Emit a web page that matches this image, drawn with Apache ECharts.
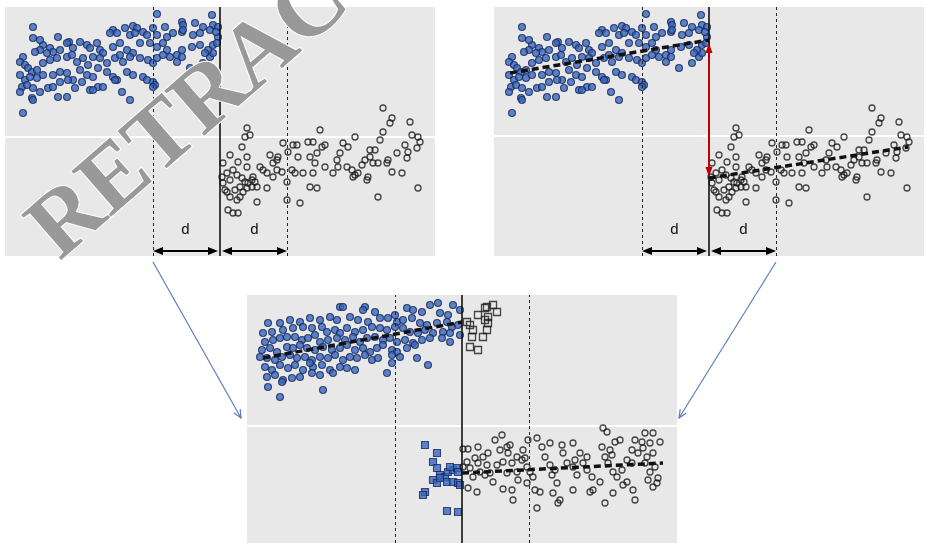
<!DOCTYPE html>
<html>
<head>
<meta charset="utf-8">
<script src="https://cdn.jsdelivr.net/npm/echarts@6/dist/echarts.min.js"></script>
<style>
  html, body { margin: 0; padding: 0; background: #ffffff; }
  #chart { width: 926px; height: 543px; }
</style>
</head>
<body>
<div id="chart"></div>
<script>
// Regression-discontinuity illustration: running variable centred on the cutoff (0),
// bandwidth d on either side, outcome on the vertical scale.

const cutoff = 0;
const bandwidth = 67;
const dividerLevels = [119, 120, 117];

// Panel A / B: treated units (left of cutoff)
const treatedLeft = [
  [-63,242],[-8,241],[-38,234],[-37,231],[-25,233],[-17,229],[-7,231],[-187,229],[-107,226],[-95,228],
  [-87,230],[-83,228],[-77,224],[-67,228],[-55,229],[-110,223],[-103,223],[-90,221],[-85,223],[-73,221],
  [-63,221],[-53,219],[-47,223],[-38,224],[-37,226],[-27,221],[-20,223],[-10,226],[-2,219],[-187,218],
  [-162,219],[-151,214],[-140,214],[-153,213],[-177,211],[-170,208],[-167,204],[-180,206],[-185,204],[-173,203],
  [-160,206],[-147,208],[-133,211],[-123,213],[-130,208],[-120,206],[-117,203],[-107,209],[-100,213],[-93,206],
  [-87,203],[-80,213],[-70,213],[-63,209],[-57,213],[-53,206],[-50,199],[-43,201],[-38,206],[-28,209],
  [-20,211],[-7,211],[-3,213],[-197,199],[-200,194],[-195,191],[-192,188],[-188,184],[-183,186],[-177,193],
  [-170,196],[-163,198],[-153,199],[-148,201],[-143,194],[-137,198],[-132,191],[-127,199],[-120,198],[-113,193],
  [-105,198],[-100,201],[-97,194],[-90,199],[-80,198],[-72,196],[-67,193],[-63,198],[-57,201],[-43,194],
  [-38,199],[-30,188],[-17,193],[-10,199],[-7,203],[-200,181],[-195,176],[-190,179],[-183,178],[-177,181],
  [-167,181],[-160,184],[-153,183],[-147,176],[-140,186],[-133,181],[-127,179],[-122,188],[-113,184],[-107,179],
  [-103,176],[-93,184],[-87,181],[-77,179],[-73,176],[-67,174],[-65,171],[-198,169],[-193,171],[-187,168],
  [-172,168],[-167,169],[-160,174],[-152,176],[-145,168],[-138,174],[-130,166],[-122,169],[-117,169],[-105,176],
  [-200,164],[-188,158],[-187,156],[-180,164],[-162,159],[-153,159],[-127,166],[-98,164],[-90,156],[-197,143],
  [-67,169],[-2,229],[-4,224],[-180,216],[-12,206],[-15,203]
];

// Panel A / B: control units (right of cutoff)
const controlRight = [
  [163,148],[172,138],[170,133],[190,134],[192,121],[198,119],[200,114],[185,111],[188,104],[187,98],
  [197,108],[177,103],[168,96],[160,116],[163,124],[155,106],[150,106],[150,99],[145,96],[135,119],
  [128,109],[123,113],[120,103],[117,96],[118,89],[113,83],[127,89],[132,86],[135,81],[138,83],
  [133,79],[142,91],[147,76],[148,79],[153,93],[158,93],[167,93],[172,84],[182,83],[198,68],
  [158,59],[100,126],[105,111],[93,114],[88,114],[102,109],[97,103],[90,99],[95,93],[105,89],
  [93,83],[90,69],[97,68],[78,99],[73,111],[77,111],[63,113],[68,104],[72,86],[75,83],
  [83,83],[67,74],[67,56],[80,53],[58,99],[57,96],[53,93],[50,101],[57,86],[62,84],
  [53,79],[47,83],[43,86],[40,89],[47,68],[37,54],[27,128],[25,119],[30,121],[22,109],
  [27,99],[10,101],[3,93],[18,94],[27,89],[13,86],[7,83],[10,76],[3,73],[17,81],
  [22,78],[25,74],[28,73],[32,76],[33,79],[35,74],[20,69],[15,66],[7,64],[10,59],
  [17,56],[20,59],[23,64],[27,68],[32,69],[37,69],[8,46],[13,43],[18,43],[5,66],
  [2,79]
];

// Panel B: local linear fits on each side
const fitLeftB = [[-199,183],[0,216]];
const fitRightB = [[0,78],[199,109]];
// Panel B: estimated jump at the cutoff
const jumpB = [[0,208],[0,84]];

// Panel C: treated units left of cutoff
const treatedLeftC = [
  [-122,236],[-119,236],[-97,236],[-99,233],[-87,231],[-67,228],[-55,235],[-49,233],[-40,231],[-32,238],
  [-24,240],[-9,238],[-2,233],[-22,230],[-14,228],[-194,220],[-182,220],[-172,223],[-162,221],[-152,225],
  [-142,223],[-132,226],[-125,223],[-112,226],[-104,223],[-94,221],[-82,225],[-74,225],[-65,221],[-59,223],
  [-50,225],[-42,220],[-35,218],[-25,220],[-15,221],[-10,216],[-4,218],[-199,210],[-190,211],[-179,213],
  [-169,215],[-159,216],[-150,215],[-140,216],[-135,211],[-127,213],[-122,210],[-115,215],[-107,211],[-99,213],
  [-90,216],[-82,215],[-75,213],[-67,216],[-59,215],[-52,211],[-44,210],[-37,213],[-29,210],[-19,211],
  [-12,210],[-2,208],[-197,201],[-189,203],[-182,205],[-175,206],[-167,206],[-160,203],[-154,205],[-147,208],
  [-142,201],[-134,203],[-125,205],[-117,203],[-109,206],[-102,201],[-95,205],[-87,206],[-79,203],[-72,205],
  [-65,201],[-57,203],[-49,200],[-40,203],[-32,205],[-20,205],[-12,201],[-200,193],[-192,195],[-185,191],
  [-175,196],[-169,195],[-162,198],[-155,195],[-147,193],[-139,196],[-130,193],[-122,195],[-115,198],[-107,193],
  [-99,195],[-92,191],[-85,195],[-79,198],[-70,193],[-65,191],[-55,195],[-47,198],[-195,185],[-187,183],
  [-180,186],[-172,188],[-165,185],[-157,186],[-150,183],[-142,186],[-134,185],[-127,188],[-119,183],[-112,186],
  [-105,185],[-97,188],[-90,183],[-84,185],[-70,188],[-62,186],[-45,185],[-34,178],[-197,176],[-190,173],
  [-182,178],[-174,175],[-167,178],[-159,173],[-149,176],[-140,178],[-132,173],[-122,176],[-115,175],[-107,173],
  [-70,180],[-75,170],[-195,166],[-187,168],[-179,163],[-170,165],[-162,166],[-150,170],[-142,168],[-129,170],
  [-194,156],[-182,146],[-139,153],[-180,161],[-152,180],[-202,186]
];

// Panel C: units just right of cutoff that sit with the upper group
const switchersUp = [
  [25,236],[31,238],[35,231],[16,228],[23,235],[8,218],[11,213],[10,206],[23,223],[26,220],
  [25,213],[21,206],[8,196],[16,193],[26,226],[5,221]
];

// Panel C: units just left of cutoff that sit with the lower group
const switchersDown = [
  [-37,98],[-25,90],[-29,81],[-25,75],[-22,68],[-17,66],[-14,71],[-9,73],[-5,75],[-4,71],
  [-29,63],[-25,60],[-22,65],[-15,61],[-9,61],[-4,60],[-2,58],[-37,51],[-39,48],[-15,32],
  [-4,31],[-12,76]
];

// Panel C: control units right of cutoff
const controlRightC = [
  [1,94],[6,94],[16,96],[13,85],[5,81],[1,76],[8,75],[16,80],[21,86],[26,90],
  [25,78],[18,71],[11,66],[6,55],[15,51],[23,68],[28,70],[31,61],[33,103],[40,108],
  [38,93],[45,96],[48,98],[46,90],[41,81],[35,78],[45,70],[50,80],[55,86],[61,93],
  [60,83],[55,71],[56,63],[50,53],[41,54],[51,43],[63,85],[65,76],[68,71],[71,66],
  [65,60],[73,53],[78,51],[75,35],[66,103],[75,105],[80,96],[83,86],[88,78],[93,73],
  [90,68],[95,60],[91,50],[98,43],[96,40],[88,100],[100,98],[101,90],[105,80],[111,100],
  [113,83],[111,76],[115,68],[118,90],[121,80],[125,73],[130,66],[131,53],[128,51],[143,40],
  [140,96],[143,86],[141,115],[145,111],[148,93],[153,101],[158,103],[146,80],[151,71],[155,66],
  [160,73],[165,61],[171,53],[173,43],[170,80],[165,83],[170,93],[173,103],[176,90],[180,101],
  [183,110],[191,110],[198,101],[188,100],[185,86],[191,90],[183,80],[193,76],[188,71],[186,63],
  [196,65],[191,56],[195,60],[138,61],[111,53],[151,50],[161,58],[181,95],[150,88],[125,86]
];

// Panel C: local linear fits
const fitLeftC = [[-199,185],[0,221]];
const fitRightC = [[0,70],[201,80]];

// Ends of the connecting arrows: [grid index, x, y] in each panel's own scale
const linkLeft = [[0, -bandwidth, -6], [2, -221, 125]];
const linkRight = [[1, bandwidth, -6], [2, 217, 125]];

const panelBg = '#e8e8e8';
const blueStyle = { color: '#3a67bd', borderColor: '#17285a', borderWidth: 1.1 };
const openStyle = { color: 'rgba(255,255,255,0)', borderColor: '#1a1a1a', borderWidth: 1.3 };

function dots(data, gi, style, symbol, size) {
  return {
    type: 'scatter', xAxisIndex: gi, yAxisIndex: gi, data: data,
    symbol: symbol, symbolSize: size, itemStyle: style, z: 3,
    silent: true, animation: false
  };
}

function fitLine(data, gi) {
  return {
    type: 'line', xAxisIndex: gi, yAxisIndex: gi, data: data,
    symbol: 'none', silent: true, animation: false, z: 4,
    lineStyle: { color: '#111', width: 3.5, type: [7, 4] }
  };
}

function divider(gi, level) {
  return {
    type: 'scatter', xAxisIndex: gi, yAxisIndex: gi, data: [], silent: true,
    markLine: {
      silent: true, symbol: 'none', animation: false, z: 1, label: { show: false },
      data: [{ yAxis: level, lineStyle: { color: '#ffffff', width: 2, type: 'solid' } }]
    }
  };
}

function cutLines(gi) {
  return {
    type: 'scatter', xAxisIndex: gi, yAxisIndex: gi, data: [], silent: true,
    markLine: {
      silent: true, symbol: 'none', animation: false, z: 5, label: { show: false },
      data: [
        { xAxis: cutoff - bandwidth, lineStyle: { color: '#222', width: 1, type: [3, 3] } },
        { xAxis: cutoff + bandwidth, lineStyle: { color: '#222', width: 1, type: [3, 3] } },
        { xAxis: cutoff, lineStyle: { color: '#111', width: 1.6, type: 'solid' } }
      ]
    }
  };
}

const headInset = 5;
const arrowLevel = 5;
function bandArrows(gi) {
  const lbl = {
    show: true, formatter: 'd', position: 'insideMiddleTop', distance: 14,
    color: '#111', fontSize: 15, fontFamily: '"Liberation Sans", Arial, sans-serif'
  };
  return {
    type: 'scatter', xAxisIndex: gi, yAxisIndex: gi, data: [], silent: true,
    markLine: {
      silent: true, animation: false, z: 6,
      symbol: ['triangle', 'triangle'], symbolSize: [8, 10],
      lineStyle: { color: '#000', width: 2, type: 'solid' },
      label: lbl,
      data: [
        [{ coord: [cutoff - bandwidth + headInset, arrowLevel] }, { coord: [cutoff - 2 - headInset, arrowLevel] }],
        [{ coord: [cutoff + 2 + headInset, arrowLevel] }, { coord: [cutoff + bandwidth - headInset, arrowLevel] }]
      ]
    }
  };
}

function jumpArrow(gi) {
  return {
    type: 'scatter', xAxisIndex: gi, yAxisIndex: gi, data: [], silent: true,
    markLine: {
      silent: true, animation: false, z: 6,
      symbol: ['triangle', 'triangle'], symbolSize: [7, 10],
      lineStyle: { color: '#c00000', width: 2, type: 'solid' },
      label: { show: false },
      data: [[{ coord: jumpB[0] }, { coord: jumpB[1] }]]
    }
  };
}

const grids = [
  { left: 5, top: 7, width: 430, height: 249 },
  { left: 494, top: 7, width: 430, height: 249 },
  { left: 247, top: 295, width: 430, height: 248 }
].map(g => Object.assign({ show: true, backgroundColor: panelBg, borderWidth: 0, containLabel: false }, g));

const yMax = [249, 249, 248];
const xAxes = grids.map((g, i) => ({ type: 'value', gridIndex: i, min: -215, max: 215, show: false }));
const yAxes = grids.map((g, i) => ({ type: 'value', gridIndex: i, min: 0, max: yMax[i], show: false }));

const series = [
  divider(0, dividerLevels[0]), divider(1, dividerLevels[1]), divider(2, dividerLevels[2]),
  dots(treatedLeft, 0, blueStyle, 'circle', 7),
  dots(controlRight, 0, openStyle, 'circle', 6),
  cutLines(0), bandArrows(0),
  dots(treatedLeft, 1, blueStyle, 'circle', 7),
  dots(controlRight, 1, openStyle, 'circle', 6),
  fitLine(fitLeftB, 1), fitLine(fitRightB, 1),
  cutLines(1), bandArrows(1), jumpArrow(1),
  dots(treatedLeftC, 2, blueStyle, 'circle', 7),
  dots(switchersUp, 2, openStyle, 'rect', 7),
  dots(switchersDown, 2, blueStyle, 'rect', 7),
  dots(controlRightC, 2, openStyle, 'circle', 6),
  fitLine(fitLeftC, 2), fitLine(fitRightC, 2),
  cutLines(2)
];

const chart = echarts.init(document.getElementById('chart'), null, { renderer: 'canvas' });
chart.setOption({
  animation: false,
  backgroundColor: '#ffffff',
  grid: grids,
  xAxis: xAxes,
  yAxis: yAxes,
  series: series
});

// Connecting arrows between panels and the watermark
function toPx(p) {
  return chart.convertToPixel({ gridIndex: p[0] }, [p[1], p[2]]);
}
function linkArrow(link) {
  const a = toPx(link[0]);
  const b = toPx(link[1]);
  const ang = Math.atan2(b[1] - a[1], b[0] - a[0]);
  const len = 9, spread = 0.42;
  const w1 = [b[0] - len * Math.cos(ang - spread), b[1] - len * Math.sin(ang - spread)];
  const w2 = [b[0] - len * Math.cos(ang + spread), b[1] - len * Math.sin(ang + spread)];
  const st = { stroke: '#5b7fbd', lineWidth: 1.2, fill: null };
  return [
    { type: 'line', shape: { x1: a[0], y1: a[1], x2: b[0], y2: b[1] }, style: st, silent: true, z: 50 },
    { type: 'polyline', shape: { points: [w1, b, w2] }, style: st, silent: true, z: 50 }
  ];
}

chart.setOption({
  graphic: [
    ...linkArrow(linkLeft),
    ...linkArrow(linkRight),
    {
      type: 'text', x: 262, y: 54, rotation: 41 * Math.PI / 180, silent: true, z: 100,
      style: {
        text: 'RETRACTED', font: 'bold 92px "Liberation Serif", "DejaVu Serif", serif',
        fill: '#999999', stroke: '#ffffff', lineWidth: 2,
        align: 'center', verticalAlign: 'middle'
      }
    }
  ]
});
</script>
</body>
</html>
